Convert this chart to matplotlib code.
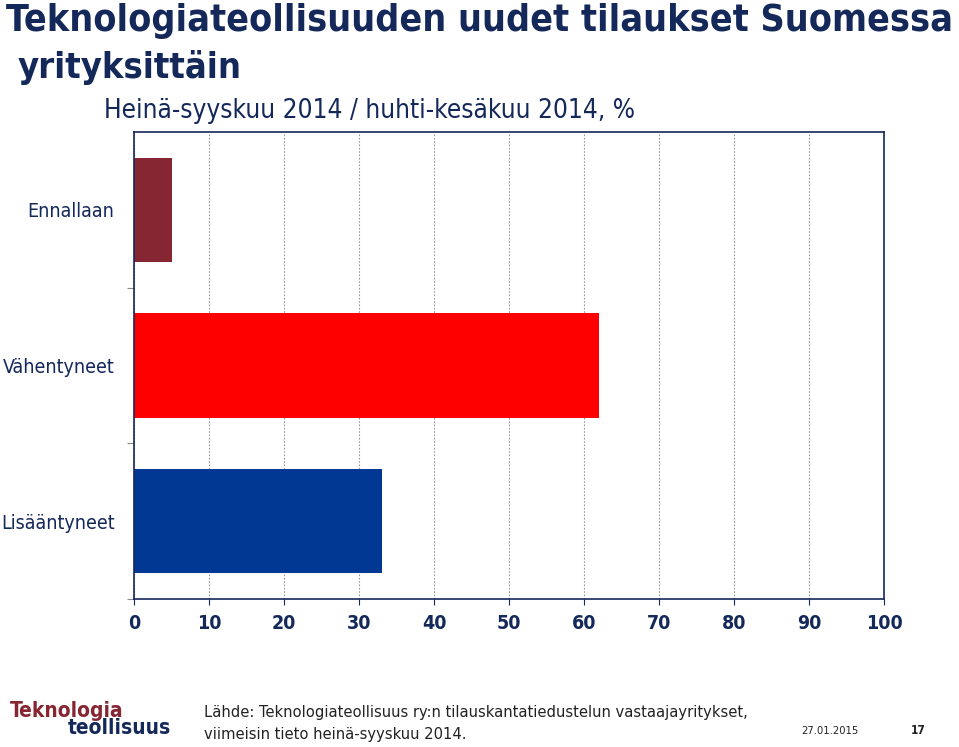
#!/usr/bin/env python
"""Teknologiateollisuuden uudet tilaukset Suomessa yrityksittäin."""

import matplotlib

matplotlib.use("Agg")
import matplotlib.pyplot as plt

categories = ["Lisääntyneet", "Vähentyneet", "Ennallaan"]
values = [33, 62, 5]
bar_colors = ["#003893", "#ff0000", "#862633"]
x_ticks = [0, 10, 20, 30, 40, 50, 60, 70, 80, 90, 100]

NAVY = "#14285a"

plt.rcParams["font.family"] = ["DejaVu Sans"]
plt.rcParams["font.stretch"] = "condensed"

figure = plt.figure(figsize=(9.59, 7.47), dpi=100)
axis = figure.add_axes([134 / 959, 1 - 599 / 747, 750 / 959, 467 / 747])

axis.barh(range(len(categories)), values, height=0.67, color=bar_colors, zorder=2)

axis.set_xlim(0, 100)
axis.set_ylim(-0.5, 2.5)
axis.set_xticks(x_ticks)
axis.set_xticklabels([str(t) for t in x_ticks], fontsize=14, fontweight="bold", color=NAVY)
axis.set_yticks(range(len(categories)))
axis.set_yticklabels(categories, fontsize=14, color=NAVY)
axis.set_yticks([-0.5, 0.5, 1.5], minor=True)
axis.tick_params(axis="y", which="major", length=0, pad=14)
axis.tick_params(axis="y", which="minor", length=5, color="#888888", width=0.8)
axis.tick_params(axis="x", length=4, color=NAVY, pad=7)

axis.grid(axis="x", linestyle=(0, (1.5, 1.5)), color="#999999", linewidth=0.8, zorder=0)
for spine in axis.spines.values():
    spine.set_color(NAVY)
    spine.set_linewidth(1.2)

figure.text(0.006, 0.972, "Teknologiateollisuuden uudet tilaukset Suomessa",
            fontsize=27, fontweight="bold", color=NAVY, va="center")
figure.text(0.018, 0.909, "yrityksittäin",
            fontsize=26, fontweight="bold", color=NAVY, va="center")
figure.text(0.108, 0.852, "Heinä-syyskuu 2014 / huhti-kesäkuu 2014, %",
            fontsize=18.8, color=NAVY, va="center")

figure.text(0.01, 0.048, "Teknologia", fontsize=15, fontweight="bold",
            color="#862633", va="center")
figure.text(0.071, 0.026, "teollisuus", fontsize=15, fontweight="bold",
            color=NAVY, va="center")
figure.text(0.213, 0.046,
            "Lähde: Teknologiateollisuus ry:n tilauskantatiedustelun vastaajayritykset,",
            fontsize=11.8, color="#222222", va="center")
figure.text(0.213, 0.017, "viimeisin tieto heinä-syyskuu 2014.",
            fontsize=11.8, color="#222222", va="center")
figure.text(0.836, 0.022, "27.01.2015", fontsize=8, color="#222222", va="center")
figure.text(0.95, 0.022, "17", fontsize=8.5, fontweight="bold", color="#222222", va="center")

figure.savefig("out.png", dpi=100)
